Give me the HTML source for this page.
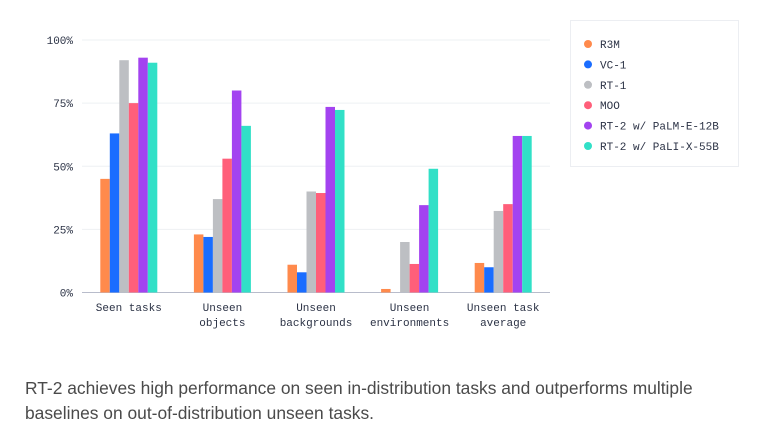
<!DOCTYPE html>
<html><head><meta charset="utf-8"><style>
body{margin:0;background:#fff;width:769px;height:448px;overflow:hidden;font-family:"Liberation Sans",sans-serif}
#cap{position:absolute;left:25px;top:376px;font-size:17.4px;line-height:25px;color:#4a4a4a;width:700px}
</style></head><body>
<svg id="chart" width="769" height="448" style="position:absolute;left:0;top:0" font-family="Liberation Mono, monospace"></svg>
<div id="cap">RT-2 achieves high performance on seen in-distribution tasks and outperforms multiple baselines on out-of-distribution unseen tasks.</div>
<script>
const categories=[["Seen tasks"],["Unseen","objects"],["Unseen","backgrounds"],["Unseen","environments"],["Unseen task","average"]];
const seriesNames=["R3M","VC-1","RT-1","MOO","RT-2 w/ PaLM-E-12B","RT-2 w/ PaLI-X-55B"];
const r3m=[45,23,11,1.4,11.7];
const vc1=[63,22,8,0,10];
const rt1=[92,37,40,20,32.3];
const moo=[75,53,39.4,11.3,35];
const palme=[93,80,73.5,34.6,62];
const palix=[91,66,72.3,49,62];
const yTicks=[0,25,50,75,100];
const seriesValues=[r3m,vc1,rt1,moo,palme,palix];
const colors=["#ff8a4c","#1a6dff","#bdbfc3","#ff5f7a","#a343f0","#31e0c7"];
const svg=document.getElementById('chart');
const NS="http://www.w3.org/2000/svg";
const X0=82,X1=550,Y0=292.5,Y100=40;
const y=v=>Y0-(Y0-Y100)*v/100;
const band=(X1-X0)/categories.length;
const bw=9.5;
function mk(t,a){const e=document.createElementNS(NS,t);for(const k in a)e.setAttribute(k,a[k]);svg.appendChild(e);return e;}
yTicks.forEach(t=>{
  const l=mk('line',{x1:X0,x2:X1,y1:y(t),y2:y(t),stroke:t===0?'#b8bccb':'#eef0f3','stroke-width':1});
  
  
  const tx=mk('text',{x:73,y:y(t)+4,'text-anchor':'end','font-size':11,fill:'#2b3245'});
  tx.textContent=t+'%';
  
  
});
categories.forEach((c,i)=>{
  const cx=X0+band*(i+0.5);
  seriesValues.forEach((s,j)=>{
    const x=cx-bw*3+bw*j;
    const r=mk('rect',{x:x,y:y(s[i]),width:bw,height:Y0-y(s[i]),fill:colors[j]});
    
    
  });
  c.forEach((line,k)=>{
    const t=mk('text',{x:cx,y:311+k*15,'text-anchor':'middle','font-size':11,fill:'#2b3245'});
    t.textContent=line;
    
    
  });
});
const lg=mk('rect',{x:570.5,y:20.5,width:168,height:146,fill:'#fff',stroke:'#eceef2'});


seriesNames.forEach((n,j)=>{
  const yy=44+j*20.4;
  const c=mk('circle',{cx:588,cy:yy,r:4,fill:colors[j]});
  
  
  const t=mk('text',{x:600,y:yy+4,'font-size':11,fill:'#2b3245'});
  t.textContent=n;
  
  
});
</script>
</body></html>
